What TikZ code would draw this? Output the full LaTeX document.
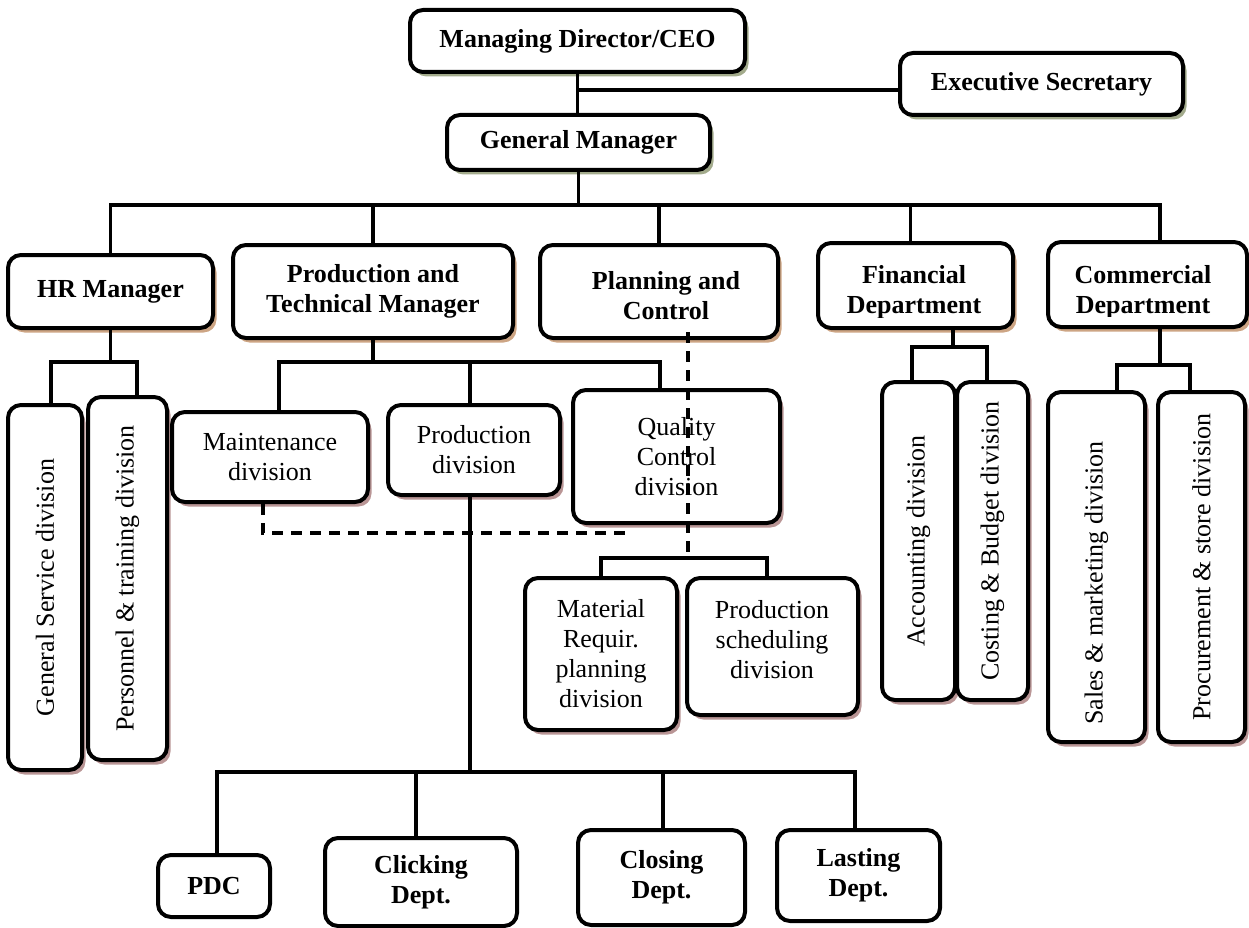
\documentclass[tikz,border=0pt]{standalone}
\usepackage{fontspec}
\setmainfont{Liberation Serif}
\usetikzlibrary{shadows,calc}
\definecolor{shadeTop}{HTML}{A3AB8C}
\definecolor{shadeMgr}{HTML}{CDA584}
\definecolor{shadeDiv}{HTML}{B99595}

\tikzset{
  box/.style={draw, line width=4pt, rounded corners=13pt, fill=white,
    inner sep=0pt, align=center, font=\fontsize{26}{30}\selectfont},
  topbox/.style={box, font=\fontsize{26}{30}\selectfont\bfseries,
    drop shadow={shadow xshift=3.5pt, shadow yshift=-4.5pt, fill=shadeTop, opacity=1}},
  mgrbox/.style={box, font=\fontsize{26}{30}\selectfont\bfseries,
    drop shadow={shadow xshift=3.5pt, shadow yshift=-4.5pt, fill=shadeMgr, opacity=1}},
  divbox/.style={box,
    drop shadow={shadow xshift=3.5pt, shadow yshift=-4.5pt, fill=shadeDiv, opacity=1}},
  deptbox/.style={box, font=\fontsize{26}{30}\selectfont\bfseries},
  vtext/.style={rotate=90, inner sep=0pt, font=\fontsize{26}{30}\selectfont},
  btext/.style={inner sep=0pt, align=center, font=\fontsize{26}{30}\selectfont\bfseries},
  link/.style={line width=3.5pt},
  dashlink/.style={line width=3.5pt, dash pattern=on 11pt off 8pt}
}

\begin{document}
\begin{tikzpicture}[x=1pt,y=-1pt]
\useasboundingbox (0,0) rectangle (1249,928);

% --- top management ---
\node[topbox, minimum width=335pt, minimum height=62pt] (ceo) at (577.5,41) {Managing Director/CEO};
\node[topbox, minimum width=283pt, minimum height=62pt] (es) at (1041.5,84) {Executive Secretary};
\node[topbox, minimum width=263pt, minimum height=55pt] (gm) at (578.5,142.5) {General Manager};

% --- managers and departments ---
\node[mgrbox, minimum width=205pt, minimum height=73pt] (hr) at (110.5,291.5) {HR Manager};
\node[mgrbox, minimum width=280pt, minimum height=93pt] (pt) at (373,291.5) {Production and\\Technical Manager};
\node[mgrbox, minimum width=238pt, minimum height=93pt] (pc) at (659,291.5) {};
\node[btext] (pctext) at (666,296) {Planning and\\Control};
\node[mgrbox, minimum width=195pt, minimum height=85pt] (fin) at (915.5,285.5) {};
\node[mgrbox, minimum width=199pt, minimum height=85pt] (com) at (1147.5,284.5) {};
\begin{scope}
  \clip (fin.north west) rectangle ([yshift=13pt]fin.south east);
  \node[btext] (fintext) at (914,292) {Financial\\Department};
\end{scope}
\begin{scope}
  \clip (com.north west) rectangle ([yshift=13pt]com.south east);
  \node[btext] (comtext) at (1143,292) {Commercial\\Department};
\end{scope}

% --- divisions ---
\node[divbox, minimum width=74pt, minimum height=365pt] (gs) at (45,587.5) {};
\node[vtext] (gstext) at (gs.center) {General Service division};
\node[divbox, minimum width=79pt, minimum height=363pt] (ptd) at (127.5,578.5) {};
\node[vtext] (ptdtext) at (ptd.center) {Personnel \& training division};

\node[divbox, minimum width=196pt, minimum height=90pt] (mnt) at (270,457) {Maintenance\\division};
\node[divbox, minimum width=172pt, minimum height=90pt] (prd) at (474,450) {Production\\division};
\node[divbox, minimum width=207pt, minimum height=133pt] (qc) at (676.5,456.5) {Quality\\Control\\division};
\node[divbox, minimum width=152pt, minimum height=152pt] (mrp) at (601,654) {Material\\Requir.\\planning\\division};
\node[divbox, minimum width=171pt, minimum height=137pt] (psd) at (772.5,646.5) {};
\node[inner sep=0pt, align=center, font=\fontsize{26}{30}\selectfont] (psdtext) at (772,640) {Production\\scheduling\\division};

\node[divbox, minimum width=73pt, minimum height=318pt] (acc) at (918.5,541) {};
\node[vtext] (acctext) at (acc.center) {Accounting division};
\node[divbox, minimum width=71pt, minimum height=318pt] (cb) at (992.5,541) {};
\node[vtext] (cbtext) at (cb.center) {Costing \& Budget division};
\node[divbox, minimum width=97pt, minimum height=350pt] (sm) at (1096.5,567) {};
\node[vtext] (smtext) at ([yshift=-16pt]sm.center) {Sales \& marketing division};
\node[divbox, minimum width=87pt, minimum height=350pt] (pr) at (1201.5,567) {};
\node[vtext] (prtext) at (pr.center) {Procurement \& store division};

% --- production departments ---
\node[deptbox, minimum width=112pt, minimum height=62pt] (pdc) at (214,886) {PDC};
\node[deptbox, minimum width=192pt, minimum height=88pt] (clk) at (421,882) {Clicking\\Dept.};
\node[deptbox, minimum width=167pt, minimum height=95pt] (cls) at (661.5,877.5) {Closing\\Dept.};
\node[deptbox, minimum width=163pt, minimum height=91pt] (lst) at (858.5,875.5) {Lasting\\Dept.};

% --- bus levels ---
\coordinate (busMain) at (0,205);
\coordinate (busHR) at (0,362);
\coordinate (busFin) at (0,347);
\coordinate (busCom) at (0,365);
\coordinate (busPlan) at (0,558);
\coordinate (busDash) at (0,533);
\coordinate (busProd) at (0,772);

% --- connection points ---
\coordinate (esIn) at ([yshift=-6pt]es.west);
\coordinate (finTop) at ([xshift=-5pt]fin.north);
\coordinate (comTop) at ([xshift=12.5pt]com.north);
\coordinate (gsTop) at ([xshift=6pt]gs.north);
\coordinate (ptdTop) at ([xshift=9.5pt]ptd.north);
\coordinate (mntTop) at ([xshift=9pt]mnt.north);
\coordinate (prdTop) at ([xshift=-4pt]prd.north);
\coordinate (prdBot) at ([xshift=-4pt]prd.south);
\coordinate (qcTop) at ([xshift=-16.5pt]qc.north);
\coordinate (finBot) at ([xshift=37.5pt]fin.south);
\coordinate (accTop) at ([xshift=-6.5pt]acc.north);
\coordinate (cbTop) at ([xshift=-5.5pt]cb.north);
\coordinate (comBot) at ([xshift=12.5pt]com.south);
\coordinate (smTop) at ([xshift=20.5pt]sm.north);
\coordinate (prTop) at ([xshift=-11.5pt]pr.north);
\coordinate (psdTop) at ([xshift=-5.5pt]psd.north);
\coordinate (pdcTop) at ([xshift=3pt]pdc.north);
\coordinate (clkTop) at ([xshift=-5pt]clk.north);
\coordinate (clsTop) at ([xshift=1.5pt]cls.north);
\coordinate (lstTop) at ([xshift=-3.5pt]lst.north);
\coordinate (pcDash) at ([xshift=29pt,yshift=8pt]pc.south);
\coordinate (mntDash) at ([xshift=-7pt]mnt.south);
\coordinate (qcDash) at ([xshift=-46.5pt]qc.south);

% --- solid connectors ---
\draw[link] (ceo.south) -- (ceo.south |- gm.north);
\draw[link] (esIn) -- (esIn -| ceo.south);
\draw[link] (gm.south) -- (gm.south |- busMain);
\draw[link] (hr.north) -- (hr.north |- busMain) -- (comTop |- busMain) -- (comTop);
\draw[link] (pt.north) -- (pt.north |- busMain);
\draw[link] (pc.north) -- (pc.north |- busMain);
\draw[link] (finTop) -- (finTop |- busMain);

\draw[link] (hr.south) -- (hr.south |- busHR);
\draw[link] (gsTop) -- (gsTop |- busHR) -- (ptdTop |- busHR) -- (ptdTop);

\draw[link] (pt.south) -- (pt.south |- busHR);
\draw[link] (mntTop) -- (mntTop |- busHR) -- (qcTop |- busHR) -- (qcTop);
\draw[link] (prdTop) -- (prdTop |- busHR);

\draw[link] (finBot) -- (finBot |- busFin);
\draw[link] (accTop) -- (accTop |- busFin) -- (cbTop |- busFin) -- (cbTop);

\draw[link] (comBot) -- (comBot |- busCom);
\draw[link] (smTop) -- (smTop |- busCom) -- (prTop |- busCom) -- (prTop);

\draw[link] (mrp.north) -- (mrp.north |- busPlan) -- (psdTop |- busPlan) -- (psdTop);

\draw[link] (prdBot) -- (prdBot |- busProd);
\draw[link] (pdcTop) -- (pdcTop |- busProd) -- (lstTop |- busProd) -- (lstTop);
\draw[link] (clkTop) -- (clkTop |- busProd);
\draw[link] (clsTop) -- (clsTop |- busProd);

% --- dashed connectors ---
\draw[dashlink] (pcDash) -- (pcDash |- busPlan);
\draw[dashlink] (mntDash) -- (mntDash |- busDash) -- (qcDash |- busDash);

\end{tikzpicture}
\end{document}
